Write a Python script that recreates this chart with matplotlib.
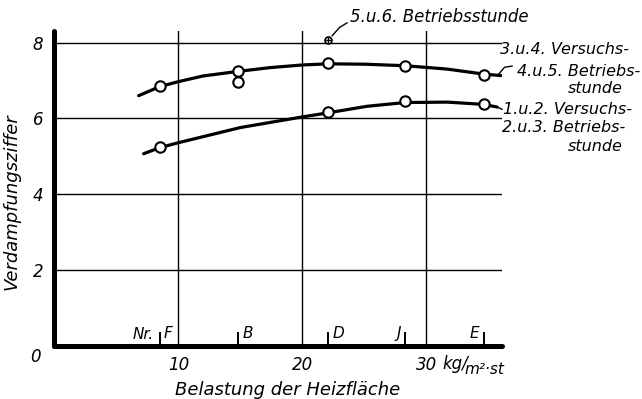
import numpy as np
import matplotlib.pyplot as plt

# ── Data ──────────────────────────────────────────────────────────────────────

# test numbers on the load axis (kg/m²·st) and the measured evaporation figures
test_names = ["F", "B", "D", "J", "E"]
test_load = [8.5, 14.8, 22.1, 28.3, 34.6]

upper_pts_y = [6.85, 7.25, 7.45, 7.38, 7.15]     # 3./4. Versuchs-, 4./5. Betriebsstunde
upper_extra_x = [14.8]
upper_extra_y = [6.97]
lower_pts_y = [5.24, 6.17, 6.45, 6.37]           # 1./2. Versuchs-, 2./3. Betriebsstunde
lower_pts_x = [8.5, 22.1, 28.3, 34.6]
special_x, special_y = 22.1, 8.07                # 5./6. Betriebsstunde

# hand-drawn mean curves
upper_curve_x = [6.8, 8.5, 10, 12, 14.8, 17.4, 20, 22.1, 25, 28.3, 31.7, 34.6, 36]
upper_curve_y = [6.60, 6.84, 6.97, 7.12, 7.24, 7.34, 7.41, 7.44, 7.43, 7.39, 7.30, 7.17, 7.13]
lower_curve_x = [7.2, 8.5, 10, 15, 20, 22.1, 25.2, 28.3, 31.7, 34.6, 35.7]
lower_curve_y = [5.07, 5.23, 5.36, 5.76, 6.04, 6.15, 6.32, 6.42, 6.43, 6.37, 6.30]

x_ticks = [10, 20, 30]
y_ticks = [2, 4, 6, 8]

# ── Figure ────────────────────────────────────────────────────────────────────

def it(size):
    return dict(fontsize=size, style="italic", family="DejaVu Sans")

fig = plt.figure(figsize=(6.42, 3.99), dpi=100)
ax = fig.add_axes([0.0846, 0.1328, 0.6975, 0.789])
ax.set_xlim(0, 36.1)
ax.set_ylim(0, 8.3)

for s in ["top", "right"]:
    ax.spines[s].set_visible(False)
for s in ["left", "bottom"]:
    ax.spines[s].set_linewidth(3.6)
    ax.spines[s].set_capstyle("round")

for xv in x_ticks:
    ax.axvline(xv, color="black", lw=1.0, zorder=1)
for yv in y_ticks:
    ax.axhline(yv, color="black", lw=1.0, zorder=1)

ax.set_xticks(x_ticks)
ax.set_xticklabels(["10", "20", "30"], **it(12))
ax.set_yticks(y_ticks)
ax.set_yticklabels([str(v) for v in y_ticks], **it(12))
ax.tick_params(axis="x", length=0, pad=7)
ax.tick_params(axis="y", length=0, pad=8)
ax.text(-1.5, -0.3, "0", ha="center", va="center", clip_on=False, **it(12))

# unit after the 30
ax.text(31.3, -0.48, "kg/", ha="left", va="center", clip_on=False, **it(12))
ax.text(33.1, -0.63, "m²·st", ha="left", va="center", clip_on=False, **it(11))

ax.set_xlabel("Belastung der Heizfläche", **it(13))
ax.set_ylabel("Verdampfungsziffer", **it(13))
ax.xaxis.set_label_coords(0.52, -0.11)
ax.yaxis.set_label_coords(-0.075, 0.46)

# curves and measured points
ax.plot(upper_curve_x, upper_curve_y, color="black", lw=2.3, solid_capstyle="round", zorder=3)
ax.plot(lower_curve_x, lower_curve_y, color="black", lw=2.3, solid_capstyle="round", zorder=3)
mk = dict(marker="o", ms=7.5, mfc="white", mec="black", mew=1.5, ls="none", zorder=4)
ax.plot(test_load, upper_pts_y, **mk)
ax.plot(upper_extra_x, upper_extra_y, **mk)
ax.plot(lower_pts_x, lower_pts_y, **mk)
ax.plot([special_x], [special_y], marker="o", ms=5, mfc="white", mec="black", mew=1.2,
        ls="none", zorder=4, clip_on=False)
ax.plot([special_x], [special_y], marker="+", ms=4.5, color="black", mew=1.0,
        ls="none", zorder=5, clip_on=False)

# test-number marks on the load axis
for xv, name in zip(test_load, test_names):
    ax.plot([xv, xv], [0, 0.34], color="black", lw=1.4, zorder=3)
    if name in ("J", "E"):
        ax.text(xv - 0.35, 0.32, name, ha="right", va="center", **it(11))
    else:
        ax.text(xv + 0.35, 0.32, name, ha="left", va="center", **it(11))
ax.text(test_load[0] - 0.5, 0.30, "Nr.", ha="right", va="center", **it(11))

# curve labels with leaders
ax.plot([22.4, 23.0, 23.6], [8.18, 8.40, 8.52], color="black", lw=1.0, clip_on=False)
ax.text(23.8, 8.68, "5.u.6. Betriebsstunde", ha="left", va="center", clip_on=False, **it(12))

ax.plot([35.8, 36.3, 36.9], [7.16, 7.35, 7.38], color="black", lw=1.0, clip_on=False)
ax.text(35.9, 7.81, "3.u.4. Versuchs-", ha="left", va="center", clip_on=False, **it(11.5))
ax.text(37.3, 7.23, "4.u.5. Betriebs-", ha="left", va="center", clip_on=False, **it(11.5))
ax.text(45.8, 6.80, "stunde", ha="right", va="center", clip_on=False, **it(11.5))

ax.plot([35.7, 36.1], [6.30, 6.24], color="black", lw=1.0, clip_on=False)
ax.text(36.2, 6.23, "1.u.2. Versuchs-", ha="left", va="center", clip_on=False, **it(11.5))
ax.text(36.1, 5.75, "2.u.3. Betriebs-", ha="left", va="center", clip_on=False, **it(11.5))
ax.text(45.8, 5.25, "stunde", ha="right", va="center", clip_on=False, **it(11.5))

fig.savefig("out.png", dpi=100)
